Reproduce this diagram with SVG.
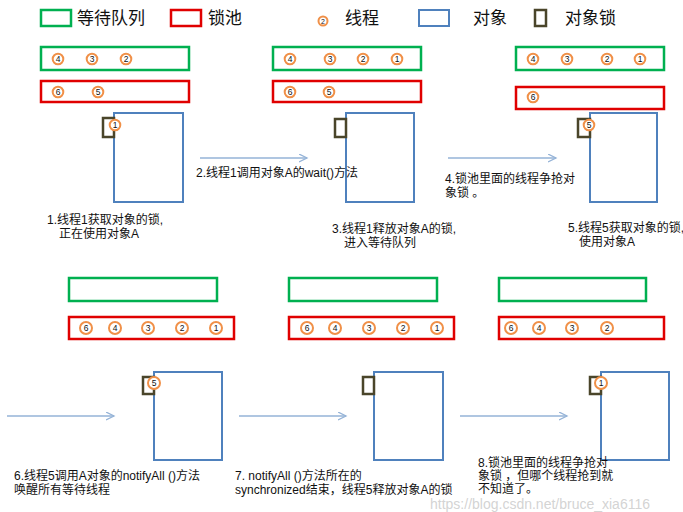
<svg xmlns="http://www.w3.org/2000/svg" width="683" height="512" viewBox="0 0 683 512">
<style>
text{font-family:"Liberation Sans","Noto Sans CJK SC",sans-serif;fill:#111}
.lg{font-size:17px}
.lb{font-size:12px}
.q{fill:none;stroke:#00B050;stroke-width:2.5}
.p{fill:none;stroke:#E00000;stroke-width:2.5}
.o{fill:#fff;stroke:#4F81BD;stroke-width:2}
.k{fill:none;stroke:#4A452A;stroke-width:2.5}
.t circle{fill:#fff;stroke:#F09048;stroke-width:2}
.t text{font-size:8.5px;text-anchor:middle}
.a{stroke:#95B3D7;stroke-width:1.5;fill:none;marker-end:url(#ah)}
.wm{font-family:"Liberation Sans",sans-serif;font-size:14px;fill:#c8c8c8;fill-opacity:0.8}
</style>
<defs>
<marker id="ah" markerWidth="10" markerHeight="10" refX="8" refY="4" orient="auto" markerUnits="userSpaceOnUse">
<path d="M0,0 L8,4 L0,8" fill="none" stroke="#95B3D7" stroke-width="1.3"/>
</marker>
</defs>
<rect width="683" height="512" fill="#fff"/>
<g id="legend">
<rect class="q" x="41" y="10" width="30" height="16"/>
<text class="lg" x="77" y="24">等待队列</text>
<rect class="p" x="171" y="10" width="30" height="16"/>
<text class="lg" x="208" y="24">锁池</text>
<g class="t"><circle cx="323" cy="21" r="4.5"/><text x="323" y="24" style="font-size:7px">2</text></g>
<text class="lg" x="345" y="24">线程</text>
<rect class="o" x="419" y="10" width="30" height="16"/>
<text class="lg" x="473" y="24">对象</text>
<rect class="k" x="535" y="10" width="11" height="16"/>
<text class="lg" x="565" y="24">对象锁</text>
</g>
<g id="connectors">
<line class="a" x1="200" y1="158" x2="307" y2="158"/>
<line class="a" x1="448" y1="158" x2="556" y2="158"/>
<line class="a" x1="7" y1="416" x2="114" y2="416"/>
<line class="a" x1="239" y1="416" x2="346" y2="416"/>
<line class="a" x1="460" y1="416" x2="567" y2="416"/>
</g>
<g id="panel1">
<rect class="q" x="41" y="47" width="148" height="23"/>
<rect class="p" x="41" y="81" width="148" height="21"/>
<g class="t">
<circle cx="58" cy="59" r="5.3"/><text x="58" y="62">4</text>
<circle cx="92" cy="59" r="5.3"/><text x="92" y="62">3</text>
<circle cx="126" cy="59" r="5.3"/><text x="126" y="62">2</text>
<circle cx="58" cy="92" r="5.3"/><text x="58" y="95">6</text>
<circle cx="98" cy="92" r="5.3"/><text x="98" y="95">5</text>
</g>
<rect class="o" x="114" y="113" width="69" height="89"/>
<rect class="k" x="103" y="118" width="11" height="19"/>
<g class="t"><circle cx="115" cy="125" r="5.3"/><text x="115" y="128">1</text></g>
<text class="lb" x="47" y="224">1.线程1获取对象的锁,</text>
<text class="lb" x="59" y="238">正在使用对象A</text>
</g>
<g id="panel2">
<rect class="q" x="273" y="47" width="148" height="23"/>
<rect class="p" x="273" y="81" width="148" height="21"/>
<g class="t">
<circle cx="290" cy="59" r="5.3"/><text x="290" y="62">4</text>
<circle cx="330" cy="59" r="5.3"/><text x="330" y="62">3</text>
<circle cx="363" cy="59" r="5.3"/><text x="363" y="62">2</text>
<circle cx="397" cy="59" r="5.3"/><text x="397" y="62">1</text>
<circle cx="290" cy="92" r="5.3"/><text x="290" y="95">6</text>
<circle cx="329" cy="92" r="5.3"/><text x="329" y="95">5</text>
</g>
<rect class="o" x="346" y="113" width="68" height="89"/>
<rect class="k" x="335" y="119" width="11" height="18"/>
<text class="lb" x="196" y="177">2.线程1调用对象A的wait()方法</text>
<text class="lb" x="332" y="233">3.线程1释放对象A的锁,</text>
<text class="lb" x="344" y="247">进入等待队列</text>
</g>
<g id="panel3">
<rect class="q" x="516" y="47" width="148" height="23"/>
<rect class="p" x="516" y="87" width="148" height="22"/>
<g class="t">
<circle cx="533" cy="59" r="5.3"/><text x="533" y="62">4</text>
<circle cx="567" cy="59" r="5.3"/><text x="567" y="62">3</text>
<circle cx="607" cy="59" r="5.3"/><text x="607" y="62">2</text>
<circle cx="640" cy="59" r="5.3"/><text x="640" y="62">1</text>
<circle cx="533" cy="97" r="5.3"/><text x="533" y="100">6</text>
</g>
<rect class="o" x="590" y="113" width="67" height="89"/>
<rect class="k" x="578" y="119" width="12" height="18"/>
<g class="t"><circle cx="589" cy="125" r="5.3"/><text x="589" y="128">5</text></g>
<text class="lb" x="445" y="183">4.锁池里面的线程争抢对</text>
<text class="lb" x="445" y="197">象锁 。</text>
<text class="lb" x="568" y="232">5.线程5获取对象的锁,</text>
<text class="lb" x="579" y="246">使用对象A</text>
</g>
<g id="panel4">
<rect class="q" x="69" y="278" width="148" height="23"/>
<rect class="p" x="69" y="317" width="165" height="22"/>
<g class="t">
<circle cx="86" cy="328" r="6"/><text x="86" y="331">6</text>
<circle cx="115" cy="328" r="6"/><text x="115" y="331">4</text>
<circle cx="148" cy="328" r="6"/><text x="148" y="331">3</text>
<circle cx="182" cy="328" r="6"/><text x="182" y="331">2</text>
<circle cx="216" cy="328" r="6"/><text x="216" y="331">1</text>
</g>
<rect class="o" x="154" y="372" width="68" height="88"/>
<rect class="k" x="143" y="377" width="11" height="17"/>
<g class="t"><circle cx="154" cy="383" r="6"/><text x="154" y="386">5</text></g>
<text class="lb" x="14" y="480">6.线程5调用A对象的notifyAll ()方法</text>
<text class="lb" x="14" y="494">唤醒所有等待线程</text>
</g>
<g id="panel5">
<rect class="q" x="289" y="278" width="148" height="23"/>
<rect class="p" x="289" y="317" width="165" height="22"/>
<g class="t">
<circle cx="307" cy="328" r="6"/><text x="307" y="331">6</text>
<circle cx="335" cy="328" r="6"/><text x="335" y="331">4</text>
<circle cx="369" cy="328" r="6"/><text x="369" y="331">3</text>
<circle cx="403" cy="328" r="6"/><text x="403" y="331">2</text>
<circle cx="437" cy="328" r="6"/><text x="437" y="331">1</text>
</g>
<rect class="o" x="374" y="372" width="69" height="88"/>
<rect class="k" x="363" y="377" width="11" height="17"/>
<text class="lb" x="235" y="480">7. notifyAll ()方法所在的</text>
<text class="lb" x="235" y="494">synchronized结束，线程5释放对象A的锁</text>
</g>
<g id="panel6">
<rect class="q" x="499" y="278" width="147" height="23"/>
<rect class="p" x="499" y="317" width="165" height="22"/>
<g class="t">
<circle cx="511" cy="328" r="6"/><text x="511" y="331">6</text>
<circle cx="539" cy="328" r="6"/><text x="539" y="331">4</text>
<circle cx="572" cy="328" r="6"/><text x="572" y="331">3</text>
<circle cx="607" cy="328" r="6"/><text x="607" y="331">2</text>
</g>
<rect class="o" x="601" y="372" width="68" height="88"/>
<rect class="k" x="590" y="377" width="11" height="17"/>
<g class="t"><circle cx="601" cy="383" r="6"/><text x="601" y="386">1</text></g>
<text class="lb" x="478" y="467">8.锁池里面的线程争抢对</text>
<text class="lb" x="478" y="480">象锁 ，但哪个线程抢到就</text>
<text class="lb" x="478" y="493">不知道了。</text>
</g>
<text class="wm" x="430" y="509">https://blog.csdn.net/bruce_xia6116</text>
</svg>
